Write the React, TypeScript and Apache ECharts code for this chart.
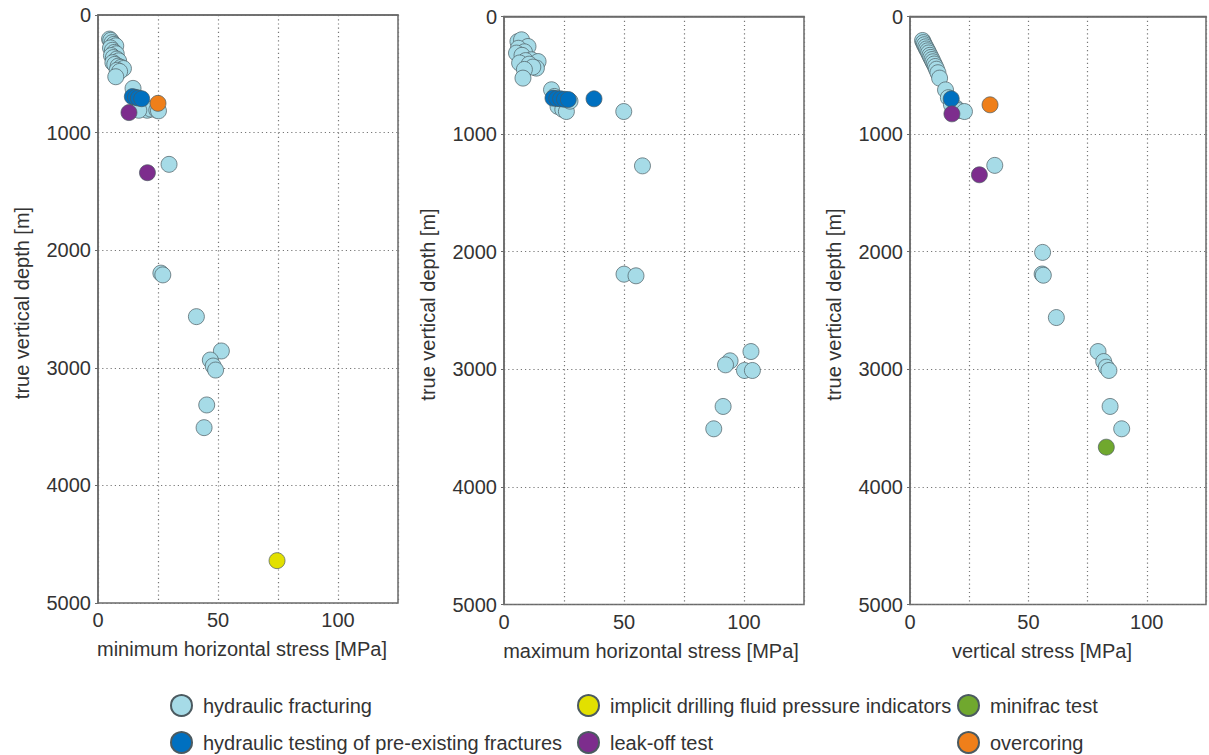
import React, { useEffect, useRef } from "react";
import * as echarts from "echarts";

// ---- data: [stress MPa, true vertical depth m] ----
const hfShmin: number[][] = [
  [4.8, 205], [5.3, 215], [5.9, 235], [6.6, 250], [7.4, 262], [5.2, 280], [6.0, 300], [6.8, 318],
  [7.6, 330], [5.6, 345], [6.4, 362], [7.8, 375], [8.6, 390], [6.2, 405], [7.0, 420], [8.4, 435],
  [9.6, 445], [10.6, 455], [8.0, 470], [9.0, 480], [7.4, 525],
  [14.6, 624], [16.0, 720], [18.0, 760], [19.0, 790], [20.5, 810], [22.0, 800], [24.5, 808], [17.0, 810], [25.2, 815],
  [29.6, 1270], [26.2, 2195], [27.0, 2210], [41.0, 2565], [51.4, 2857], [46.8, 2934], [48.0, 2985],
  [49.0, 3019], [45.3, 3316], [44.2, 3509],
];
const blueShmin: number[][] = [[14.3, 694], [15.6, 700], [16.8, 706], [18.2, 712]];
const purpleShmin: number[][] = [[12.9, 830], [20.6, 1341]];
const orangeShmin: number[][] = [[25.0, 751]];
const yellowShmin: number[][] = [[74.6, 4640]];

const hfSHmax: number[][] = [
  [5.8, 213], [7.3, 198], [10.0, 255], [6.0, 270], [8.5, 300], [5.2, 311], [7.5, 330], [11.4, 368],
  [9.0, 375], [14.2, 383], [6.5, 395], [10.5, 405], [13.5, 439], [12.0, 430], [8.5, 450], [7.9, 524],
  [19.8, 623], [21.0, 680], [23.0, 740], [22.5, 765], [24.5, 790], [26.0, 808], [27.5, 720],
  [49.9, 808], [57.7, 1270], [50.0, 2191], [55.0, 2205], [102.9, 2849], [94.2, 2928], [92.3, 2962],
  [100.2, 3010], [103.5, 3010], [91.3, 3316], [87.4, 3506],
];
const blueSHmax: number[][] = [[20.4, 694], [22.0, 698], [23.6, 700], [25.2, 704], [26.8, 706], [37.5, 700]];

const hfSv: number[][] = [
  [5.3, 204], [5.7, 222], [6.1, 240], [6.6, 258], [7.0, 276], [7.5, 292], [7.9, 310], [8.4, 330],
  [8.8, 348], [9.3, 366], [9.7, 385], [10.2, 404], [10.7, 425], [11.2, 448], [11.8, 478], [12.5, 524],
  [15.0, 624], [16.2, 690], [17.5, 750], [19.5, 779], [20.5, 800], [23.0, 808],
  [35.8, 1266], [56.0, 2006], [55.8, 2190], [56.3, 2200], [61.8, 2560], [79.4, 2849], [81.8, 2934],
  [82.9, 2982], [84.0, 3010], [84.5, 3316], [89.4, 3506],
];
const blueSv: number[][] = [[17.4, 700]];
const purpleSv: number[][] = [[17.7, 828], [29.3, 1346]];
const orangeSv: number[][] = [[33.8, 751]];
const greenSv: number[][] = [[82.9, 3662]];

const xNames = ["minimum horizontal stress [MPa]", "maximum horizontal stress [MPa]", "vertical stress [MPa]"];
const yName = "true vertical depth [m]";
const methodNames = [
  "hydraulic fracturing",
  "hydraulic testing of pre-existing fractures",
  "implicit drilling fluid pressure indicators",
  "leak-off test",
  "minifrac test",
  "overcoring",
];
const methodColors = ["#a6dbe7", "#0070c0", "#e2e000", "#7d2d8d", "#70a82e", "#ef7f1a"];

const FONT = "'Liberation Sans', Arial, sans-serif";

export default function App() {
  const ref = useRef<HTMLDivElement>(null);
  useEffect(() => {
    if (!ref.current) return;
    const chart = echarts.init(ref.current, undefined, { renderer: "svg" });
    const grids = [
      { left: 98, top: 15, width: 300, height: 588 },
      { left: 504, top: 16.5, width: 300, height: 588 },
      { left: 910, top: 16.5, width: 298, height: 588 },
    ];
    const xPads = [[0, 12, 0, 0], [0, 6, 0, 0], [0, 32, 0, 0]];
    const axisLineStyle = { color: "#6a6a6a", width: 1.5 };
    const gridLineStyle = { type: [1.2, 3], color: "#777", width: 1.2 };
    const xAxes = grids.map((_, i) => ({
      type: "value",
      gridIndex: i,
      min: 0,
      max: 125,
      interval: 25,
      name: xNames[i],
      nameLocation: "middle",
      nameGap: 36,
      nameTextStyle: { fontSize: 20, color: "#333", fontFamily: FONT, padding: xPads[i] },
      axisLine: { show: true, lineStyle: axisLineStyle },
      axisTick: { show: false },
      axisLabel: {
        fontSize: 20,
        color: "#333",
        fontFamily: FONT,
        margin: 7,
        formatter: (v: number) => (v % 50 === 0 ? String(v) : ""),
      },
      splitLine: { show: true, lineStyle: gridLineStyle },
    }));
    const yAxes = grids.map((_, i) => ({
      type: "value",
      gridIndex: i,
      inverse: true,
      min: 0,
      max: 5000,
      interval: 1000,
      name: yName,
      nameLocation: "middle",
      nameGap: 66,
      nameTextStyle: { fontSize: 20, color: "#333", fontFamily: FONT, padding: [0, 0, 0, 12] },
      axisLine: { show: true, lineStyle: axisLineStyle },
      axisTick: { show: true, length: 3, lineStyle: { color: "#6a6a6a" } },
      axisLabel: { fontSize: 20, color: "#333", fontFamily: FONT, margin: 7, formatter: (v: number) => String(v) },
      splitLine: { show: true, lineStyle: gridLineStyle },
    }));
    const mk = (name: string, data: number[][], idx: number) => {
      const c = methodColors[methodNames.indexOf(name)];
      return {
        type: "scatter",
        name,
        xAxisIndex: idx,
        yAxisIndex: idx,
        data,
        symbol: "circle",
        symbolSize: 16,
        itemStyle: { color: c, borderColor: "#4b5a60", borderWidth: 0.7, opacity: 1 },
        emphasis: { disabled: true },
      };
    };
    const series = [
      mk(methodNames[0], hfShmin, 0),
      mk(methodNames[1], blueShmin, 0),
      mk(methodNames[3], purpleShmin, 0),
      mk(methodNames[5], orangeShmin, 0),
      mk(methodNames[2], yellowShmin, 0),
      mk(methodNames[0], hfSHmax, 1),
      mk(methodNames[1], blueSHmax, 1),
      mk(methodNames[0], hfSv, 2),
      mk(methodNames[1], blueSv, 2),
      mk(methodNames[3], purpleSv, 2),
      mk(methodNames[5], orangeSv, 2),
      mk(methodNames[4], greenSv, 2),
    ];
    const legendBase = {
      orient: "vertical",
      top: 694,
      height: 60,
      padding: 0,
      itemWidth: 21,
      itemHeight: 21,
      itemGap: 14,
      icon: "circle",
      textStyle: { fontSize: 20, color: "#333", fontFamily: FONT, padding: [0, 0, 0, 6] },
      selectedMode: false,
    };
    chart.setOption({
      animation: false,
      backgroundColor: "#fff",
      grid: grids.map((g) => ({ ...g, show: true, borderColor: "#6a6a6a", borderWidth: 1.5, backgroundColor: "transparent" })),
      xAxis: xAxes,
      yAxis: yAxes,
      legend: [
        { ...legendBase, left: 170, data: [methodNames[0], methodNames[1]] },
        { ...legendBase, left: 577, data: [methodNames[2], methodNames[3]] },
        { ...legendBase, left: 957, data: [methodNames[4], methodNames[5]] },
      ],
      series,
    });
    return () => chart.dispose();
  }, []);
  return <div ref={ref} style={{ position: "fixed", left: 0, top: 0, width: 1209, height: 755, background: "#fff" }} />;
}
